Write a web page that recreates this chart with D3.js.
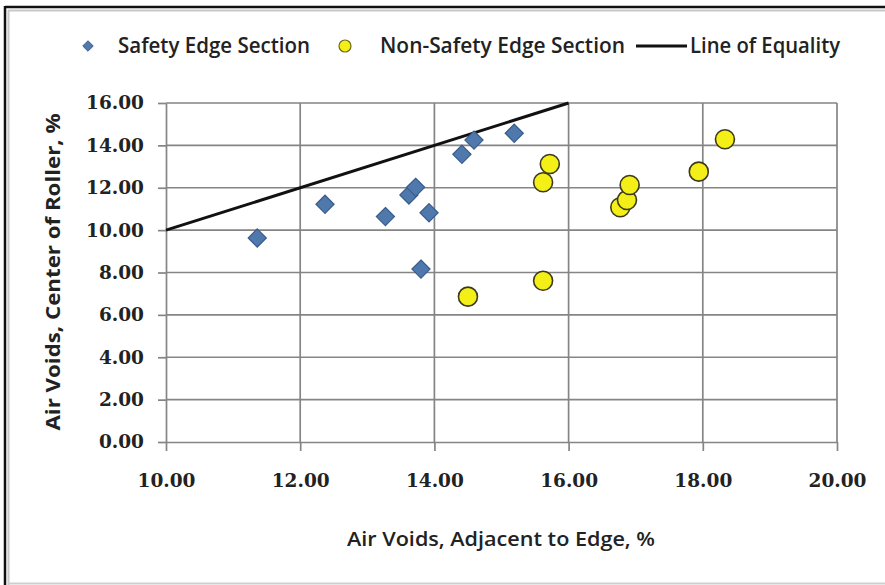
<!DOCTYPE html>
<html>
<head>
<meta charset="utf-8">
<script src="https://cdn.jsdelivr.net/npm/d3@7"></script>
<style>
  html, body { margin: 0; padding: 0; background: #fff; }
  svg { display: block; }
</style>
</head>
<body>
<svg id="chart" width="885" height="585"></svg>
<script>
// ---- data ----
const safetyX = [11.36, 12.37, 13.27, 13.62, 13.72, 13.92, 13.80, 14.41, 14.59, 15.19];
const safetyY = [9.63, 11.22, 10.64, 11.66, 12.02, 10.82, 8.16, 13.58, 14.25, 14.57];
const nonSafetyX = [14.50, 15.62, 15.62, 15.72, 16.77, 16.87, 16.91, 17.94, 18.33];
const nonSafetyY = [6.86, 7.61, 12.26, 13.12, 11.08, 11.42, 12.13, 12.76, 14.29];
const equalityX = [10, 16];
const equalityY = [10, 16];
const xTicks = [10, 12, 14, 16, 18, 20];
const yTicks = [0, 2, 4, 6, 8, 10, 12, 14, 16];
const seriesNames = ["Safety Edge Section", "Non-Safety Edge Section", "Line of Equality"];
const xTitle = "Air Voids, Adjacent to Edge, %";
const yTitle = "Air Voids, Center of Roller, %";

const svg = d3.select("#chart");

// outer frame
svg.append("line").attr("x1", 5).attr("x2", 885).attr("y1", 7).attr("y2", 7).attr("stroke", "#111").attr("stroke-width", 2.5);
svg.append("line").attr("x1", 5).attr("x2", 5).attr("y1", 6).attr("y2", 585).attr("stroke", "#111").attr("stroke-width", 2.5);
svg.append("line").attr("x1", 8).attr("x2", 885).attr("y1", 10.5).attr("y2", 10.5).attr("stroke", "#c8c8c8").attr("stroke-width", 2);
svg.append("line").attr("x1", 8.5).attr("x2", 8.5).attr("y1", 10).attr("y2", 585).attr("stroke", "#c8c8c8").attr("stroke-width", 2);
svg.append("line").attr("x1", 8).attr("x2", 885).attr("y1", 583.5).attr("y2", 583.5).attr("stroke", "#cfcfcf").attr("stroke-width", 2);

const x = d3.scaleLinear().domain([10, 20]).range([166, 837]);
const y = d3.scaleLinear().domain([0, 16]).range([442, 103]);

// gridlines
const grid = svg.append("g");
grid.selectAll(".hg").data(yTicks.filter(d => d > 0)).enter().append("line")
  .attr("x1", x(10)).attr("x2", x(20))
  .attr("y1", d => y(d)).attr("y2", d => y(d))
  .attr("stroke", "#858585").attr("stroke-width", 1.7);
grid.selectAll(".vg").data(xTicks.filter(d => d > 10)).enter().append("line")
  .attr("x1", d => x(d)).attr("x2", d => x(d))
  .attr("y1", y(0)).attr("y2", y(16))
  .attr("stroke", "#858585").attr("stroke-width", 1.7);

// axes
const tickFont = "'DejaVu Serif', 'Liberation Serif', serif";
const xAxis = svg.append("g").attr("transform", `translate(0,${y(0)})`)
  .call(d3.axisBottom(x).tickValues(xTicks).tickFormat(d3.format(".2f")).tickSizeInner(9).tickSizeOuter(0).tickPadding(23));
const yAxis = svg.append("g").attr("transform", `translate(${x(10)},0)`)
  .call(d3.axisLeft(y).tickValues(yTicks).tickFormat(d3.format(".2f")).tickSizeInner(8).tickSizeOuter(0).tickPadding(14));
[xAxis, yAxis].forEach(a => {
  a.select(".domain").attr("stroke", "#858585").attr("stroke-width", 1.7);
  a.selectAll(".tick line").attr("stroke", "#858585").attr("stroke-width", 1.7);
  a.selectAll(".tick text").attr("font-family", tickFont).attr("font-weight", "bold")
    .attr("font-size", 18.5).attr("fill", "#222");
});

// line of equality
const lineGen = d3.line().x(d => x(d[0])).y(d => y(d[1]));
svg.append("path").datum(equalityX.map((v, i) => [v, equalityY[i]]))
  .attr("d", lineGen).attr("fill", "none").attr("stroke", "#111").attr("stroke-width", 3);

// series
const diamond = d3.symbol().type(d3.symbolDiamond2).size(210);
svg.append("g").selectAll("path").data(safetyX.map((v, i) => [v, safetyY[i]])).enter().append("path")
  .attr("d", diamond)
  .attr("transform", d => `translate(${x(d[0])},${y(d[1])})`)
  .attr("fill", "#4f79ad").attr("stroke", "#3a5c8a").attr("stroke-width", 1.2);

svg.append("g").selectAll("circle").data(nonSafetyX.map((v, i) => [v, nonSafetyY[i]])).enter().append("circle")
  .attr("cx", d => x(d[0])).attr("cy", d => y(d[1])).attr("r", 9.5)
  .attr("fill", "#f4ef17").attr("stroke", "#3b3a1c").attr("stroke-width", 1.6);

// legend
const legFont = "'Liberation Sans Narrow', 'Open Sans', sans-serif";
const ly = 46;
const legend = svg.append("g");
legend.append("path").attr("d", d3.symbol().type(d3.symbolDiamond2).size(70)())
  .attr("transform", `translate(88,${ly})`).attr("fill", "#4f79ad").attr("stroke", "#3a5c8a");
legend.append("text").attr("x", 118).attr("y", ly + 7).text(seriesNames[0])
  .attr("textLength", 192).attr("lengthAdjust", "spacingAndGlyphs");
legend.append("circle").attr("cx", 345).attr("cy", ly).attr("r", 6)
  .attr("fill", "#f4ef17").attr("stroke", "#6b6a1c").attr("stroke-width", 1.2);
legend.append("text").attr("x", 380).attr("y", ly + 7).text(seriesNames[1])
  .attr("textLength", 245).attr("lengthAdjust", "spacingAndGlyphs");
legend.append("line").attr("x1", 636).attr("x2", 687).attr("y1", ly).attr("y2", ly)
  .attr("stroke", "#111").attr("stroke-width", 3);
legend.append("text").attr("x", 690).attr("y", ly + 7).text(seriesNames[2])
  .attr("textLength", 150).attr("lengthAdjust", "spacingAndGlyphs");
legend.selectAll("text").attr("font-family", legFont).attr("font-size", 21).attr("font-weight", 600).attr("fill", "#222");

// axis titles
svg.append("text").attr("x", 501).attr("y", 546).attr("text-anchor", "middle")
  .attr("font-family", legFont).attr("font-size", 20).attr("font-weight", 600).attr("fill", "#222")
  .attr("textLength", 308).attr("lengthAdjust", "spacingAndGlyphs").text(xTitle);
svg.append("text").attr("transform", `translate(60,272) rotate(-90)`).attr("text-anchor", "middle")
  .attr("font-family", "'Open Sans', sans-serif").attr("font-weight", "bold").attr("font-size", 19).attr("fill", "#222")
  .attr("textLength", 317).attr("lengthAdjust", "spacingAndGlyphs").text(yTitle);
</script>
</body>
</html>
